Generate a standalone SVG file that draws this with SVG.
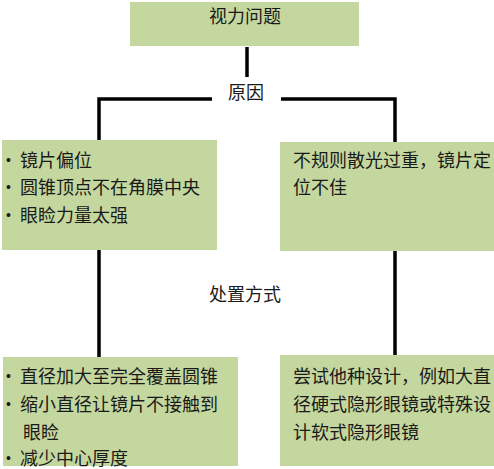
<svg xmlns="http://www.w3.org/2000/svg" width="494" height="469" viewBox="0 0 494 469">
<style>
.box{fill:#c4d79e;}
.t{font-family:"Noto Sans CJK SC","Noto Sans",sans-serif;font-size:18px;fill:#1a1a1a;}
.b{font-family:"Liberation Sans",sans-serif;font-size:14px;fill:#1a1a1a;}
.ln{stroke:#000;stroke-width:3.5;fill:none;}
</style>
<rect width="494" height="469" fill="#fff"/>
<g id="connectors">
<line class="ln" x1="247" y1="47" x2="247" y2="77"/>
<polyline class="ln" points="212,99 99,99 99,140"/>
<polyline class="ln" points="281,99 395,99 395,142"/>
<line class="ln" x1="99" y1="250" x2="99" y2="357"/>
<line class="ln" x1="395" y1="251" x2="395" y2="356"/>
<text class="t" x="246" y="99" text-anchor="middle">原因</text>
<text class="t" x="245" y="301" text-anchor="middle">处置方式</text>
</g>
<g id="top">
<rect class="box" x="130" y="2" width="229" height="44"/>
<text class="t" x="245" y="23" text-anchor="middle">视力问题</text>
</g>
<g id="cause-left">
<rect class="box" x="2" y="140" width="215" height="110"/>
<text class="b" x="6" y="165">•</text><text class="t" x="20" y="167">镜片偏位</text>
<text class="b" x="6" y="192">•</text><text class="t" x="20" y="194">圆锥顶点不在角膜中央</text>
<text class="b" x="6" y="220">•</text><text class="t" x="20" y="222">眼睑力量太强</text>
</g>
<g id="cause-right">
<rect class="box" x="280" y="142" width="214" height="109"/>
<text class="t" x="293" y="167">不规则散光过重，镜片定</text>
<text class="t" x="293" y="194">位不佳</text>
</g>
<g id="treat-left">
<rect class="box" x="3" y="357" width="235" height="109"/>
<text class="b" x="6" y="381">•</text><text class="t" x="20" y="383">直径加大至完全覆盖圆锥</text>
<text class="b" x="6" y="409">•</text><text class="t" x="20" y="411">缩小直径让镜片不接触到</text>
<text class="t" x="23" y="439">眼睑</text>
<text class="b" x="6" y="463">•</text><text class="t" x="20" y="465">减少中心厚度</text>
</g>
<g id="treat-right">
<rect class="box" x="280" y="355" width="214" height="111"/>
<text class="t" x="293" y="383">尝试他种设计，例如大直</text>
<text class="t" x="293" y="411">径硬式隐形眼镜或特殊设</text>
<text class="t" x="293" y="439">计软式隐形眼镜</text>
</g>
</svg>
